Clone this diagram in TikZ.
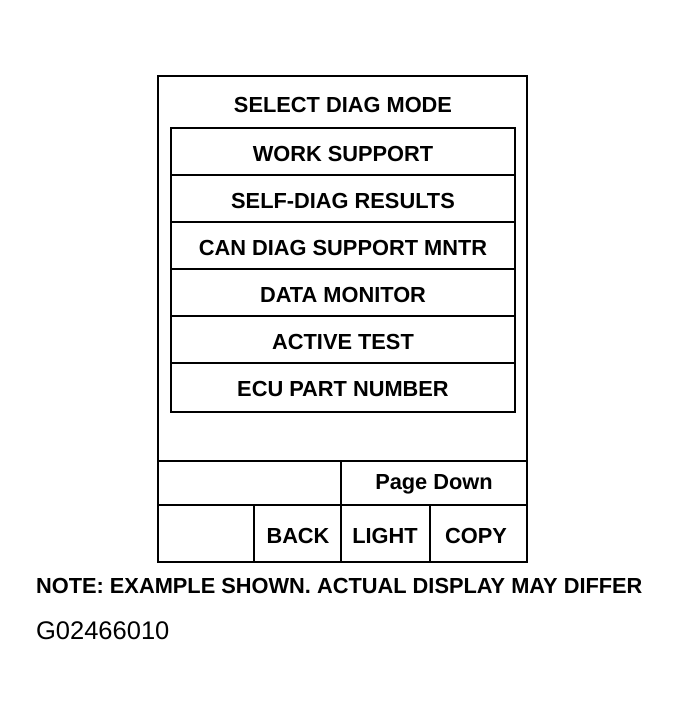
\documentclass[tikz,border=0pt]{standalone}
\usepackage{fontspec}
\setmainfont{Liberation Sans}
\begin{document}
\begin{tikzpicture}[x=1pt,y=-1pt,line width=2.2pt,
  t/.style={font=\bfseries\fontsize{21.8}{22}\selectfont,inner sep=0pt,anchor=center}]
\useasboundingbox (0,0) rectangle (679,713);
\draw (158,76) rectangle (527,562);
\draw (171,128) rectangle (515,412);
\foreach \y in {175,222,269,316,363} \draw (171,\y) -- (515,\y);
\draw (158,461) -- (527,461);
\draw (158,505) -- (527,505);
\draw (341,461) -- (341,562);
\draw (254,505) -- (254,562);
\draw (430,505) -- (430,562);
\node[t] (title) at (343,105) {SELECT DIAG MODE};
\node[t] (m1) at (343,154) {WORK SUPPORT};
\node[t] (m2) at (343,201) {SELF-DIAG RESULTS};
\node[t] (m3) at (343,248) {CAN DIAG SUPPORT MNTR};
\node[t] (m4) at (343,295) {DATA MONITOR};
\node[t] (m5) at (343,342) {ACTIVE TEST};
\node[t] (m6) at (343,389) {ECU PART NUMBER};
\node[t] (pd) at (434,484) {Page Down};
\node[t] (b1) at (298,536) {BACK};
\node[t] (b2) at (385,536) {LIGHT};
\node[t] (b3) at (476,536) {COPY};
\node[t,anchor=west] (note) at (35,586) {NOTE: EXAMPLE SHOWN. ACTUAL DISPLAY MAY DIFFER};
\node[t,anchor=west,font=\fontsize{25.5}{25}\selectfont] (code) at (35,631) {G02466010};
\end{tikzpicture}
\end{document}
